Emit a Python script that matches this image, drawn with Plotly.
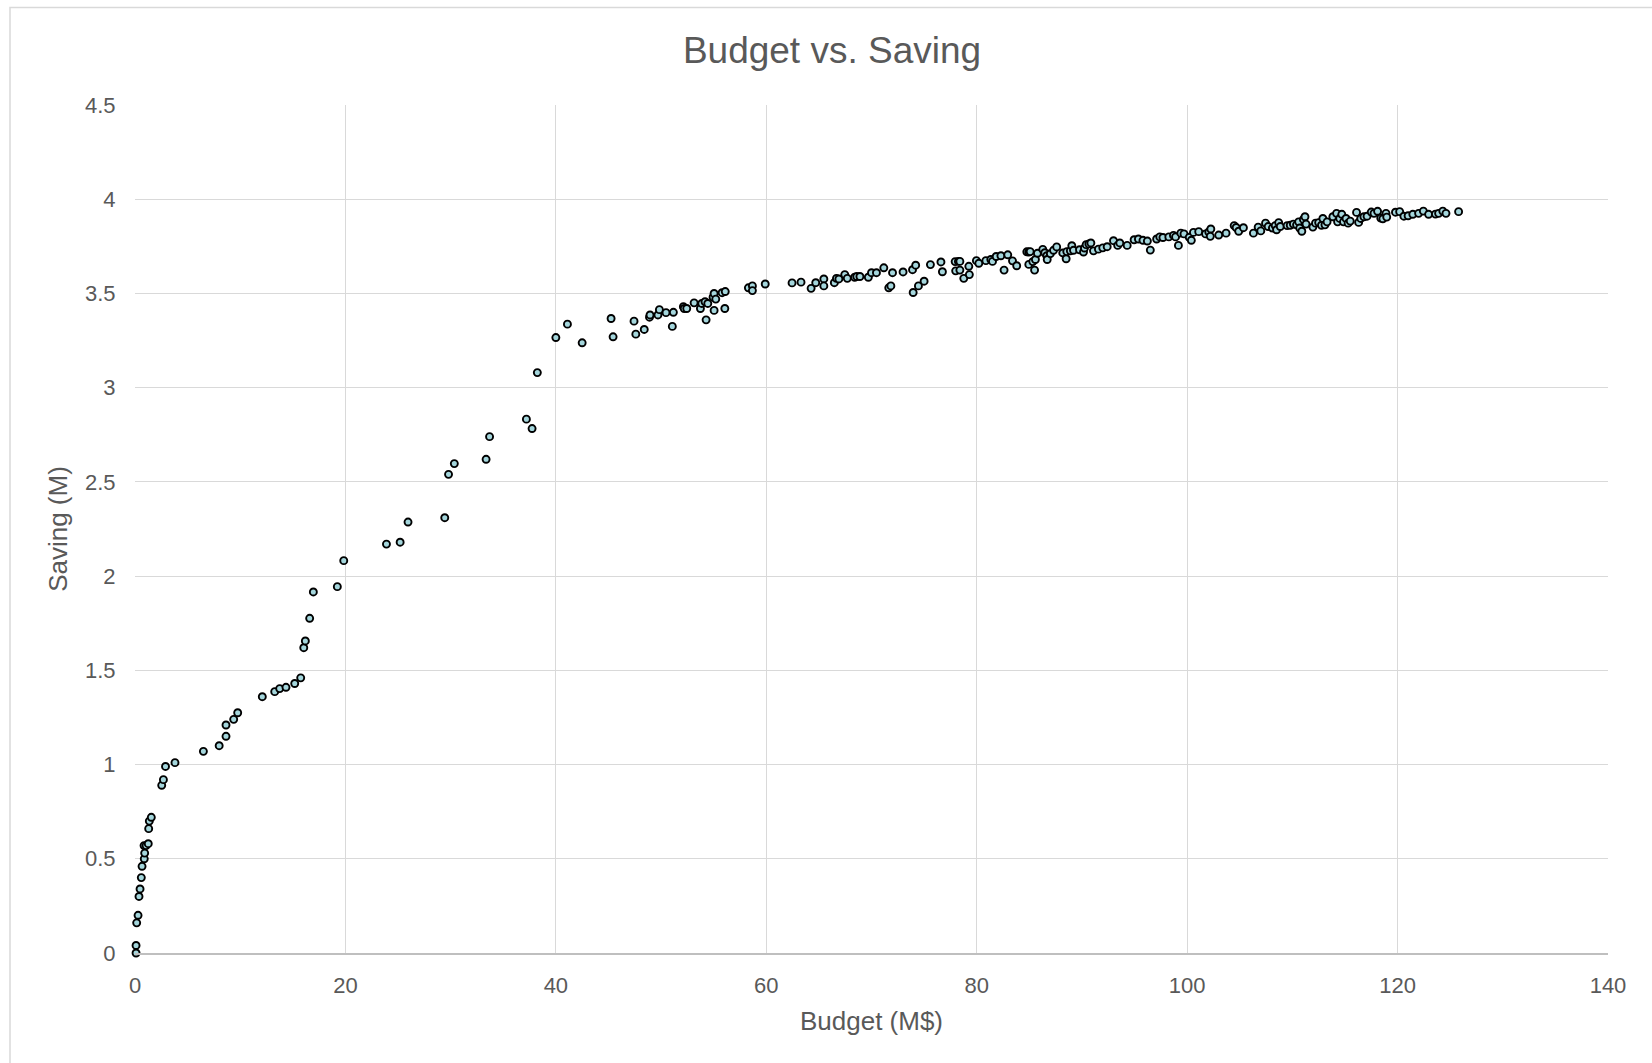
import plotly.graph_objects as go

# Budget (M$) and saving (M) per project
budget = [
    0.1, 0.1, 0.16, 0.29, 0.38, 0.48, 0.6, 0.67, 0.88, 0.92, 0.86, 1.05, 1.26, 1.3, 1.36, 1.55,
    2.54, 2.7, 2.9, 3.8,
    6.5, 8.0, 8.65, 8.65, 9.38, 9.76, 12.1, 13.28, 13.75, 14.35, 15.18, 15.75, 16.04, 16.19,
    16.6, 16.95, 19.23, 19.84,
    23.9, 25.2, 25.95, 29.44, 29.8, 30.35, 33.37, 33.7, 37.2, 37.74, 38.24, 40.0, 41.1, 42.5,
    45.25, 45.44, 47.43, 47.6, 48.4, 48.9, 48.95, 49.7, 49.84, 50.47, 51.07, 51.17, 52.12, 52.2,
    52.44, 53.14, 53.74, 53.87, 54.18, 54.28, 54.44, 54.94, 55.04, 55.04, 55.2, 55.8, 56.06, 56.1,
    58.3, 58.68, 58.68,
    59.9, 62.45, 63.3, 64.26, 64.7, 65.47, 65.47, 66.47, 66.67, 66.9, 67.46, 67.7, 68.4, 68.6,
    68.9, 69.7, 70.0, 70.47, 71.17, 71.64, 71.84, 72.0, 73.0, 73.9, 73.96, 74.2, 74.46, 75.0,
    75.6, 76.6, 76.74, 77.95, 78.0, 78.26, 78.4, 78.4, 78.77, 79.25, 79.3, 79.97, 80.2, 80.87,
    81.34, 81.5, 81.85, 82.3, 82.6, 82.95, 83.4, 83.8, 84.76, 84.95, 84.95,
    85.08, 85.33, 85.5, 85.58, 85.77, 86.28, 86.47, 86.66, 86.7, 87.0, 87.3, 87.6, 88.18, 88.5,
    88.56, 88.9, 89.04, 89.2, 89.77, 90.15, 90.24, 90.4, 90.66, 90.85, 91.1, 91.57, 91.98, 92.4,
    93.0, 93.4, 93.6, 94.3, 94.96, 95.37, 95.8, 96.22, 96.5, 97.1, 97.4, 97.7, 98.26, 98.7,
    98.9, 99.17, 99.4, 99.7, 100.2, 100.4, 100.6, 101.1, 101.75, 102.06, 102.25, 102.2, 103.0,
    103.7, 104.47, 104.66, 104.9, 105.35, 106.3, 106.75, 107.0, 107.45, 107.7, 108.1, 108.37,
    108.5, 108.7, 108.85, 109.5, 109.8, 110.1, 110.4, 110.6, 110.7, 110.9, 111.05, 111.2, 111.3,
    111.95, 112.2, 112.5, 112.77,
    112.9, 113.1, 113.3, 113.85, 114.2, 114.3, 114.5, 114.7, 114.86, 115.1, 115.3, 115.5, 116.1,
    116.3, 116.5, 116.8, 117.1, 117.5, 117.76, 118.1, 118.4, 118.6, 118.9, 118.97, 119.8, 120.2,
    120.6, 121.0, 121.45, 122.0, 122.45, 122.95, 123.6, 123.9, 124.3, 124.6, 125.8,
]
saving = [
    0.0, 0.04, 0.16, 0.20, 0.30, 0.34, 0.40, 0.46, 0.50, 0.53, 0.57, 0.57, 0.58, 0.66, 0.70, 0.72,
    0.89, 0.92, 0.99, 1.01,
    1.07, 1.10, 1.15, 1.21, 1.24, 1.275, 1.36, 1.387, 1.403, 1.41, 1.43, 1.46, 1.62, 1.656,
    1.776, 1.916, 1.944, 2.082,
    2.17, 2.18, 2.287, 2.31, 2.54, 2.597, 2.62, 2.74, 2.833, 2.783, 3.08, 3.266, 3.337, 3.238,
    3.367, 3.27, 3.353, 3.284, 3.309, 3.374, 3.386, 3.386, 3.414, 3.398, 3.325, 3.40, 3.43, 3.42,
    3.42, 3.45, 3.42, 3.447, 3.456, 3.36, 3.447, 3.48, 3.50, 3.41, 3.47, 3.504, 3.42, 3.51,
    3.53, 3.54, 3.515,
    3.55, 3.556, 3.56, 3.527, 3.557, 3.577, 3.54, 3.557, 3.58, 3.577, 3.60, 3.58, 3.586, 3.59,
    3.59, 3.586, 3.61, 3.61, 3.636, 3.53, 3.54, 3.61, 3.614, 3.626, 3.505, 3.65, 3.54, 3.565,
    3.653, 3.667, 3.615, 3.669, 3.62, 3.67, 3.624, 3.67, 3.58, 3.644, 3.60, 3.674, 3.66, 3.674,
    3.68, 3.67, 3.696, 3.70, 3.624, 3.705, 3.673, 3.647, 3.721, 3.72, 3.654,
    3.722, 3.669, 3.624, 3.68, 3.713, 3.734, 3.716, 3.70, 3.68, 3.711, 3.729, 3.747, 3.715, 3.684,
    3.722, 3.726, 3.753, 3.729, 3.732, 3.72, 3.741, 3.759, 3.763, 3.768, 3.726, 3.735, 3.742, 3.748,
    3.78, 3.755, 3.768, 3.755, 3.785, 3.789, 3.782, 3.778, 3.73, 3.789, 3.80, 3.797, 3.80, 3.808,
    3.80, 3.755, 3.82, 3.816, 3.798, 3.782, 3.824, 3.828, 3.816, 3.826, 3.842, 3.803, 3.81,
    3.82, 3.86, 3.85, 3.83, 3.849, 3.82, 3.852, 3.832, 3.873, 3.855, 3.847, 3.86,
    3.838, 3.876, 3.855, 3.86, 3.862, 3.868, 3.864, 3.88, 3.847, 3.83, 3.893, 3.907, 3.868,
    3.852, 3.873, 3.876, 3.862,
    3.898, 3.864, 3.88, 3.907, 3.925, 3.88, 3.898, 3.92, 3.88, 3.898, 3.873, 3.884, 3.93,
    3.877, 3.898, 3.907, 3.91, 3.932, 3.925, 3.936, 3.90, 3.896, 3.925, 3.905, 3.931, 3.934,
    3.91, 3.912, 3.92, 3.925, 3.937, 3.92, 3.921, 3.925, 3.937, 3.925, 3.934,
]

x_ticks = [0, 20, 40, 60, 80, 100, 120, 140]
y_ticks = [0, 0.5, 1, 1.5, 2, 2.5, 3, 3.5, 4, 4.5]
y_tick_text = ["0", "0.5", "1", "1.5", "2", "2.5", "3", "3.5", "4", "4.5"]

TEXT = "#595959"
GRID = "#d9d9d9"
FONT = "Liberation Sans, Arial, sans-serif"

fig = go.Figure(
    go.Scatter(
        x=budget,
        y=saving,
        mode="markers",
        marker=dict(size=7, color="#a4d6dc", line=dict(color="#000000", width=1.9)),
        cliponaxis=False,
        showlegend=False,
    )
)

fig.update_layout(
    width=1652,
    height=1063,
    paper_bgcolor="white",
    plot_bgcolor="white",
    margin=dict(l=135, r=44, t=105, b=110),
    font=dict(family=FONT, color=TEXT),
    title=dict(
        text="Budget vs. Saving",
        x=832 / 1652,
        xanchor="center",
        y=1 - 50 / 1063,
        yanchor="middle",
        font=dict(size=37, color=TEXT, family=FONT),
    ),
    xaxis=dict(
        range=[0, 140],
        tickvals=x_ticks,
        ticktext=[str(v) for v in x_ticks],
        showgrid=True,
        gridcolor=GRID,
        gridwidth=1.3,
        zeroline=False,
        showline=True,
        linecolor="#bfbfbf",
        linewidth=2,
        ticks="outside",
        ticklen=12,
        tickcolor="rgba(0,0,0,0)",
        tickfont=dict(size=22, color=TEXT),
        title=dict(text="Budget (M$)", font=dict(size=26, color=TEXT), standoff=14),
    ),
    yaxis=dict(
        range=[0, 4.5],
        tickvals=y_ticks,
        ticktext=y_tick_text,
        showgrid=True,
        gridcolor=GRID,
        gridwidth=1.3,
        zeroline=False,
        showline=False,
        ticks="outside",
        ticklen=14,
        tickcolor="rgba(0,0,0,0)",
        tickfont=dict(size=22, color=TEXT),
        title=dict(text="Saving (M)", font=dict(size=26, color=TEXT), standoff=9),
    ),
    shapes=[
        # outer chart-area frame
        dict(
            type="rect",
            xref="paper",
            yref="paper",
            x0=(10 - 135) / 1473,
            x1=(1680 - 135) / 1473,
            y0=(953.5 - 1090) / 848.1,
            y1=(953.5 - 8) / 848.1,
            line=dict(color=GRID, width=1.5),
            layer="below",
        )
    ],
)

fig.write_html("out.html")
